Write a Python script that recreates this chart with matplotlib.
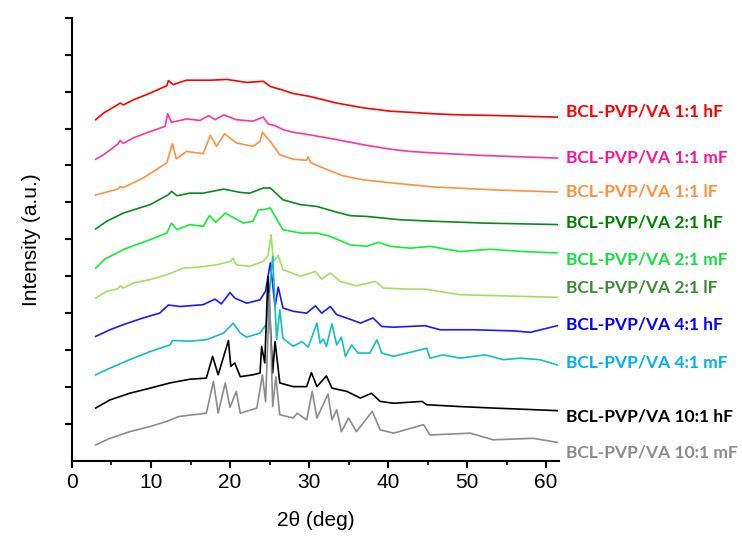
import matplotlib
matplotlib.use('Agg')
import matplotlib.pyplot as plt
from matplotlib.ticker import MultipleLocator

# sample names (top to bottom)
labels = ['BCL-PVP/VA 1:1 hF', 'BCL-PVP/VA 1:1 mF', 'BCL-PVP/VA 1:1 lF',
          'BCL-PVP/VA 2:1 hF', 'BCL-PVP/VA 2:1 mF', 'BCL-PVP/VA 2:1 lF',
          'BCL-PVP/VA 4:1 hF', 'BCL-PVP/VA 4:1 mF',
          'BCL-PVP/VA 10:1 hF', 'BCL-PVP/VA 10:1 mF']

# 2theta / stacked intensity
hf11_x = [3.0, 4.0, 5.6, 6.1, 6.5, 7.8, 9.9, 12.0, 12.2, 12.8, 14.5, 17.5, 19.6, 22.1, 24.2,
          25.1, 26.7, 28.0, 30.1, 33.5, 36.9, 40.3, 42.8, 45.7, 49.1, 52.1, 56.0, 61.4]
hf11_y = [9.24, 9.42, 9.62, 9.69, 9.64, 9.78, 9.96, 10.16, 10.30, 10.19, 10.31, 10.31, 10.33,
          10.25, 10.28, 10.14, 10.04, 9.95, 9.87, 9.69, 9.56, 9.47, 9.44, 9.40, 9.37, 9.36,
          9.34, 9.31]

mf11_x = [3.0, 4.0, 5.8, 6.1, 6.5, 7.8, 9.9, 11.8, 12.1, 12.6, 14.5, 16.2, 17.3, 18.1, 19.2,
          20.8, 22.9, 24.2, 24.8, 25.9, 26.7, 28.0, 30.1, 33.5, 36.9, 40.3, 42.8, 45.7, 52.1,
          56.0, 61.4]
mf11_y = [8.17, 8.29, 8.58, 8.68, 8.60, 8.75, 8.92, 9.06, 9.40, 9.17, 9.26, 9.22, 9.35, 9.24,
          9.37, 9.24, 9.20, 9.31, 9.13, 9.06, 8.97, 8.90, 8.83, 8.70, 8.56, 8.44, 8.38, 8.34,
          8.27, 8.24, 8.20]

lf11_x = [3.0, 4.4, 5.8, 6.1, 6.5, 9.0, 12.0, 12.7, 13.2, 14.5, 16.6, 17.5, 18.3, 19.3, 20.8,
          22.9, 23.8, 24.1, 25.1, 26.3, 28.0, 29.7, 29.9, 30.2, 31.8, 34.3, 36.9, 40.3, 42.8,
          45.7, 53.3, 61.4]
lf11_y = [7.20, 7.28, 7.36, 7.43, 7.40, 7.66, 8.07, 8.59, 8.18, 8.38, 8.32, 8.81, 8.52, 8.86,
          8.61, 8.52, 8.65, 8.90, 8.65, 8.29, 8.17, 8.14, 8.23, 8.08, 7.93, 7.72, 7.61, 7.53,
          7.48, 7.42, 7.34, 7.28]

hf21_x = [3.0, 4.4, 6.5, 9.9, 12.2, 12.6, 13.3, 14.9, 16.6, 19.2, 21.3, 22.5, 24.2, 25.1, 26.7,
          28.9, 31.0, 33.1, 35.2, 37.3, 41.5, 45.7, 52.1, 61.4]
hf21_y = [6.28, 6.49, 6.71, 6.94, 7.21, 7.30, 7.18, 7.25, 7.25, 7.36, 7.27, 7.25, 7.39, 7.39,
          7.07, 6.94, 6.89, 6.76, 6.64, 6.62, 6.53, 6.49, 6.44, 6.40]

mf21_x = [3.0, 4.2, 6.5, 8.2, 9.9, 12.0, 12.6, 13.3, 14.9, 16.6, 17.4, 18.2, 19.4, 21.7, 22.9,
          23.6, 24.2, 25.1, 25.7, 26.7, 28.9, 31.0, 32.7, 35.2, 37.3, 38.8, 40.3, 42.8, 45.3,
          49.1, 52.9, 57.1, 61.4]
mf21_y = [5.22, 5.47, 5.72, 5.86, 5.99, 6.17, 6.44, 6.26, 6.40, 6.35, 6.64, 6.46, 6.71, 6.44,
          6.49, 6.80, 6.80, 6.85, 6.62, 6.26, 6.17, 6.17, 6.08, 5.85, 5.81, 5.92, 5.81, 5.76,
          5.81, 5.67, 5.73, 5.67, 5.63]

lf21_x = [3.0, 4.4, 5.8, 6.1, 6.5, 7.8, 9.9, 12.0, 14.1, 16.2, 18.3, 20.0, 20.4, 20.8, 22.5,
          24.2, 24.8, 25.2, 25.5, 26.1, 26.7, 28.9, 30.8, 31.6, 32.7, 33.9, 36.0, 38.4, 39.4,
          42.8, 44.7, 49.1, 54.2, 61.4]
lf21_y = [4.41, 4.59, 4.66, 4.74, 4.68, 4.82, 4.91, 5.04, 5.22, 5.25, 5.31, 5.40, 5.49, 5.31,
          5.27, 5.40, 5.55, 6.12, 5.40, 5.56, 5.18, 5.00, 5.13, 4.92, 5.09, 4.86, 4.74, 4.86,
          4.68, 4.65, 4.65, 4.50, 4.47, 4.43]

hf41_x = [3.0, 4.8, 6.5, 9.0, 11.1, 12.2, 13.7, 16.6, 18.1, 18.9, 20.0, 20.6, 22.1, 23.8, 24.5,
          25.1, 25.7, 26.1, 26.7, 28.0, 29.7, 30.8, 31.6, 32.7, 33.5, 35.4, 36.5, 38.1, 39.2,
          40.7, 44.7, 46.6, 50.8, 55.9, 58.0, 61.4]
hf41_y = [3.37, 3.55, 3.69, 3.87, 4.00, 4.22, 4.18, 4.23, 4.38, 4.25, 4.56, 4.41, 4.27, 4.36,
          4.60, 5.36, 4.18, 4.71, 4.14, 4.05, 4.00, 4.20, 4.00, 4.18, 3.96, 3.82, 3.73, 3.87,
          3.64, 3.62, 3.66, 3.55, 3.55, 3.52, 3.48, 3.66]

mf41_x = [3.0, 4.8, 7.3, 9.9, 12.4, 12.7, 14.9, 17.0, 19.2, 20.4, 21.3, 22.1, 23.8, 24.6, 25.4,
          25.9, 26.3, 26.7, 28.0, 29.1, 29.9, 31.0, 31.4, 31.8, 32.2, 32.9, 33.5, 34.1, 34.6,
          35.4, 36.2, 37.7, 38.6, 39.2, 40.7, 44.9, 45.3, 47.0, 49.1, 50.8, 52.3, 54.6, 56.7,
          59.2, 61.4]
mf41_y = [2.33, 2.51, 2.74, 2.96, 3.14, 3.26, 3.24, 3.28, 3.46, 3.73, 3.46, 3.35, 3.46, 3.70,
          5.54, 3.28, 4.09, 3.32, 3.10, 3.23, 3.08, 3.73, 3.19, 3.30, 3.10, 3.71, 3.14, 3.35,
          2.83, 3.14, 2.92, 2.92, 3.28, 2.92, 2.83, 3.05, 2.78, 2.87, 2.78, 2.83, 2.87, 2.74,
          2.78, 2.74, 2.60]

hf101_x = [3.0, 4.8, 7.3, 9.9, 12.4, 14.9, 17.0, 17.8, 18.5, 19.2, 19.8, 20.1, 20.6, 21.3,
           22.9, 23.8, 24.0, 24.4, 24.8, 25.4, 25.7, 26.3, 28.0, 29.7, 30.3, 31.0, 32.2, 32.9,
           34.8, 36.5, 37.9, 39.0, 40.7, 44.3, 44.9, 49.1, 53.3, 61.4]
hf101_y = [1.43, 1.65, 1.83, 1.97, 2.11, 2.21, 2.24, 2.83, 2.33, 2.83, 3.26, 2.56, 2.65, 2.28,
           2.33, 2.38, 3.10, 2.65, 4.99, 2.38, 3.23, 2.11, 2.01, 2.01, 2.39, 2.01, 2.30, 1.97,
           1.88, 1.70, 1.83, 1.61, 1.56, 1.61, 1.52, 1.47, 1.43, 1.36]

mf101_x = [3.0, 4.8, 7.3, 9.9, 12.0, 13.5, 15.4, 17.0, 17.9, 18.5, 19.4, 20.0, 20.8, 21.3, 23.4,
           24.1, 24.5, 25.0, 25.4, 25.8, 26.3, 28.0, 28.5, 29.7, 30.4, 31.0, 32.4, 32.9, 33.5,
           34.1, 35.0, 36.0, 38.0, 39.0, 40.7, 44.5, 45.3, 50.4, 53.3, 58.4, 61.4]
mf101_y = [0.43, 0.61, 0.79, 0.93, 1.07, 1.20, 1.25, 1.29, 2.15, 1.29, 2.11, 1.45, 1.88, 1.29,
           1.43, 2.33, 1.60, 4.54, 1.47, 2.28, 1.25, 1.16, 1.29, 1.11, 1.88, 1.16, 1.81, 1.11,
           1.38, 0.79, 1.16, 0.79, 1.34, 0.84, 0.75, 0.98, 0.70, 0.75, 0.57, 0.61, 0.50]

xs = [hf11_x, mf11_x, lf11_x, hf21_x, mf21_x, lf21_x, hf41_x, mf41_x, hf101_x, mf101_x]
ys = [hf11_y, mf11_y, lf11_y, hf21_y, mf21_y, lf21_y, hf41_y, mf41_y, hf101_y, mf101_y]

line_colors = ['#ff0000', '#ff3399', '#ff9040', '#0a8a1a', '#11ee33',
               '#a0e060', '#1a1aff', '#10c0c0', '#000000', '#8c8c8c']
label_colors = ['#ff0000', '#ff1493', '#ff9040', '#008000', '#11e040',
                '#3d8b37', '#0000ff', '#00b0f0', '#000000', '#8c8c8c']
label_y = [9.46, 8.21, 7.29, 6.45, 5.45, 4.69, 3.69, 2.66, 1.19, 0.22]

fig = plt.figure(figsize=(7.42, 5.39), dpi=100)
ax = fig.add_axes([0.097, 0.145, 0.656, 0.822])

for x, y, c in zip(xs, ys, line_colors):
    ax.plot(x, y, color=c, lw=1.2)

for lab, ly, c in zip(labels, label_y, label_colors):
    ax.text(62.5, ly, lab, color=c, fontsize=12.5, fontweight='bold',
            family=['Lato', 'DejaVu Sans'], va='center', ha='left', clip_on=False)

ax.set_xlim(0, 61.6)
ax.set_ylim(0, 12)
ax.xaxis.set_major_locator(MultipleLocator(10))
ax.xaxis.set_minor_locator(MultipleLocator(5))
ax.set_yticks(range(1, 13))
ax.set_yticklabels([])

for s in ['top', 'right']:
    ax.spines[s].set_visible(False)
for s in ['left', 'bottom']:
    ax.spines[s].set_linewidth(1.5)
ax.tick_params(axis='both', which='major', direction='out', length=5, width=1.5)
ax.tick_params(axis='x', which='minor', direction='out', length=3, width=1.2)

tick_font = ['Liberation Sans Narrow', 'Liberation Sans', 'DejaVu Sans']
for t in ax.get_xticklabels():
    t.set_family(tick_font)
    t.set_fontsize(15)
ax.set_xlabel('2\u03b8 (deg)', family=tick_font, fontsize=15, labelpad=14)
ax.set_ylabel('Intensity (a.u.)', family=tick_font, fontsize=15, labelpad=14)

fig.savefig('out.png', dpi=100)
